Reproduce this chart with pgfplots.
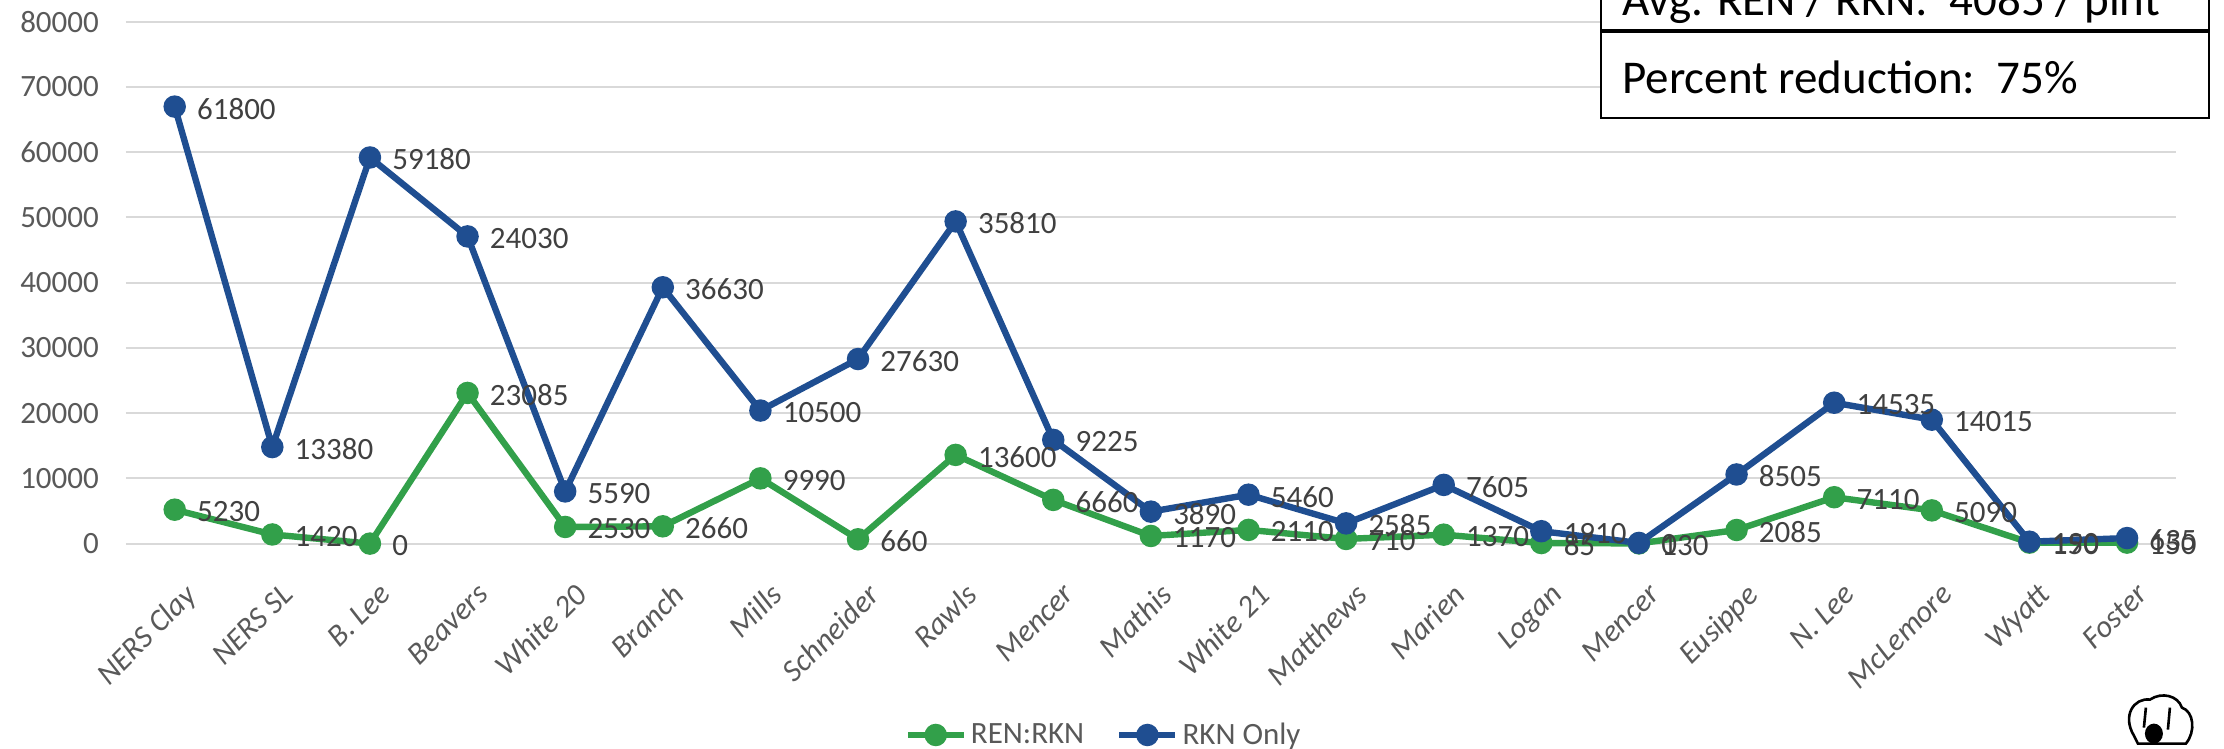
\documentclass[border=0pt]{standalone}
\usepackage{pgfplots}
\pgfplotsset{compat=1.18}
\usepackage{pgfplotstable}
\usepackage{fontspec}
\setmainfont{Carlito}
\definecolor{rknblue}{RGB}{31,78,145}
\definecolor{rengreen}{RGB}{50,160,74}
\definecolor{tickgray}{RGB}{89,89,89}
\definecolor{labgray}{RGB}{64,64,64}
\definecolor{gridgray}{RGB}{217,217,217}

\pgfplotstableread{
x y l
0 67000 61800
1 14800 13380
2 59200 59180
3 47100 24030
4 8000 5590
5 39300 36630
6 20400 10500
7 28300 27630
8 49400 35810
9 15900 9225
10 4900 3890
11 7500 5460
12 3100 2585
13 9000 7605
14 1900 1910
15 100 0
16 10600 8505
17 21600 14535
18 19000 14015
19 290 190
20 850 635
}\rknonly

\pgfplotstableread{
x y l
0 5200 5230
1 1400 1420
2 0 0
3 23100 23085
4 2550 2530
5 2650 2660
6 10000 9990
7 660 660
8 13600 13600
9 6700 6660
10 1170 1170
11 2100 2110
12 710 710
13 1370 1370
14 85 85
15 30 130
16 2085 2085
17 7110 7110
18 5090 5090
19 150 150
20 150 150
}\renrkn

\newcommand{\fs}{\fontsize{15.5}{18}\selectfont}

\begin{document}
\begin{tikzpicture}
\begin{axis}[
  at={(0,0)}, anchor=south west,
  scale only axis,
  width=1025pt, height=260.9pt,
  xmin=-0.5, xmax=20.5,
  ymin=0, ymax=80000,
  ytick={0,10000,...,80000},
  xtick={0,...,20},
  xticklabels={NERS Clay,NERS SL,B. Lee,Beavers,White 20,Branch,Mills,Schneider,Rawls,Mencer,Mathis,White 21,Matthews,Marien,Logan,Mencer,Eusippe,N. Lee,McLemore,Wyatt,Foster},
  scaled y ticks=false,
  /pgf/number format/fixed,
  /pgf/number format/1000 sep={},
  /pgf/number format/assume math mode=true,
  yticklabel style={font=\fs, text=tickgray, xshift=-10pt},
  xticklabel style={font=\fs\itshape, text=tickgray, inner sep=0pt, xshift=4pt, yshift=-19pt, rotate=45, anchor=north east},
  ymajorgrids,
  grid style={gridgray, line width=1pt},
  axis line style={draw=none},
  major tick length=0pt,
  tick style={draw=none},
  clip=false,
  legend style={at={(0.4774,-0.3668)}, anchor=center, draw=none, fill=none, font=\fs, text=tickgray, legend columns=2, /tikz/every even column/.append style={column sep=14pt}},
  legend cell align=left,
  legend image code/.code={\draw[#1, mark repeat=2, mark phase=2] plot coordinates {(0pt,0pt) (14pt,0pt) (28pt,0pt)};},
]
\addplot[rengreen, line width=3.2pt, mark=*, mark size=4pt, mark options={solid}] table[x=x,y=y] {\renrkn};
\addlegendentry{REN:RKN}
\addplot[rknblue, line width=3.2pt, mark=*, mark size=4pt, mark options={solid}] table[x=x,y=y] {\rknonly};
\addlegendentry{RKN Only}
\addplot[forget plot, draw=none, mark=none, nodes near coords, point meta=explicit symbolic,
  every node near coord/.append style={font=\fs, text=labgray, anchor=west, inner sep=0pt, xshift=11pt, yshift=-1pt}]
  table[x=x,y=y,meta=l] {\renrkn};
\addplot[forget plot, draw=none, mark=none, nodes near coords, point meta=explicit symbolic,
  every node near coord/.append style={font=\fs, text=labgray, anchor=west, inner sep=0pt, xshift=11pt, yshift=-1pt}]
  table[x=x,y=y,meta=l] {\rknonly};
\end{axis}
% info box
\fill[white] (737.35pt,212.85pt) rectangle (1041.5pt,300pt);
\draw[black, line width=1pt] (737.35pt,212.85pt) rectangle (1041.5pt,300pt);
\draw[black, line width=2pt] (737.35pt,256.1pt) -- (1041.5pt,256.1pt);
\node[anchor=base west, inner sep=0pt, font=\fontsize{23.5}{28}\selectfont] at (748pt,225pt) {Percent reduction:\ \ 75\%};
\node[anchor=base west, inner sep=0pt, font=\fontsize{23.5}{28}\selectfont] at (748pt,263.8pt) {Avg. REN / RKN:\ \ 4085 / pint};
% cotton logo
\begin{scope}[line width=1.3pt]
\draw[fill=white] (1004pt,-96pt) .. controls (998pt,-86pt) and (1004pt,-77pt) .. (1012pt,-78pt)
  .. controls (1018pt,-74pt) and (1026pt,-76pt) .. (1028pt,-82pt)
  .. controls (1034pt,-84pt) and (1035pt,-94pt) .. (1030pt,-100pt) -- (1006pt,-100pt) -- cycle;
\fill[black] (1014pt,-95pt) ellipse (4.5pt and 5pt);
\draw (1010pt,-82pt) -- (1009pt,-92pt);
\draw (1022pt,-82pt) -- (1021pt,-93pt);
\end{scope}
\pgfresetboundingbox
\useasboundingbox (-62.95pt,-102.7pt) rectangle (1049.05pt,271.8pt);
\end{tikzpicture}
\end{document}
